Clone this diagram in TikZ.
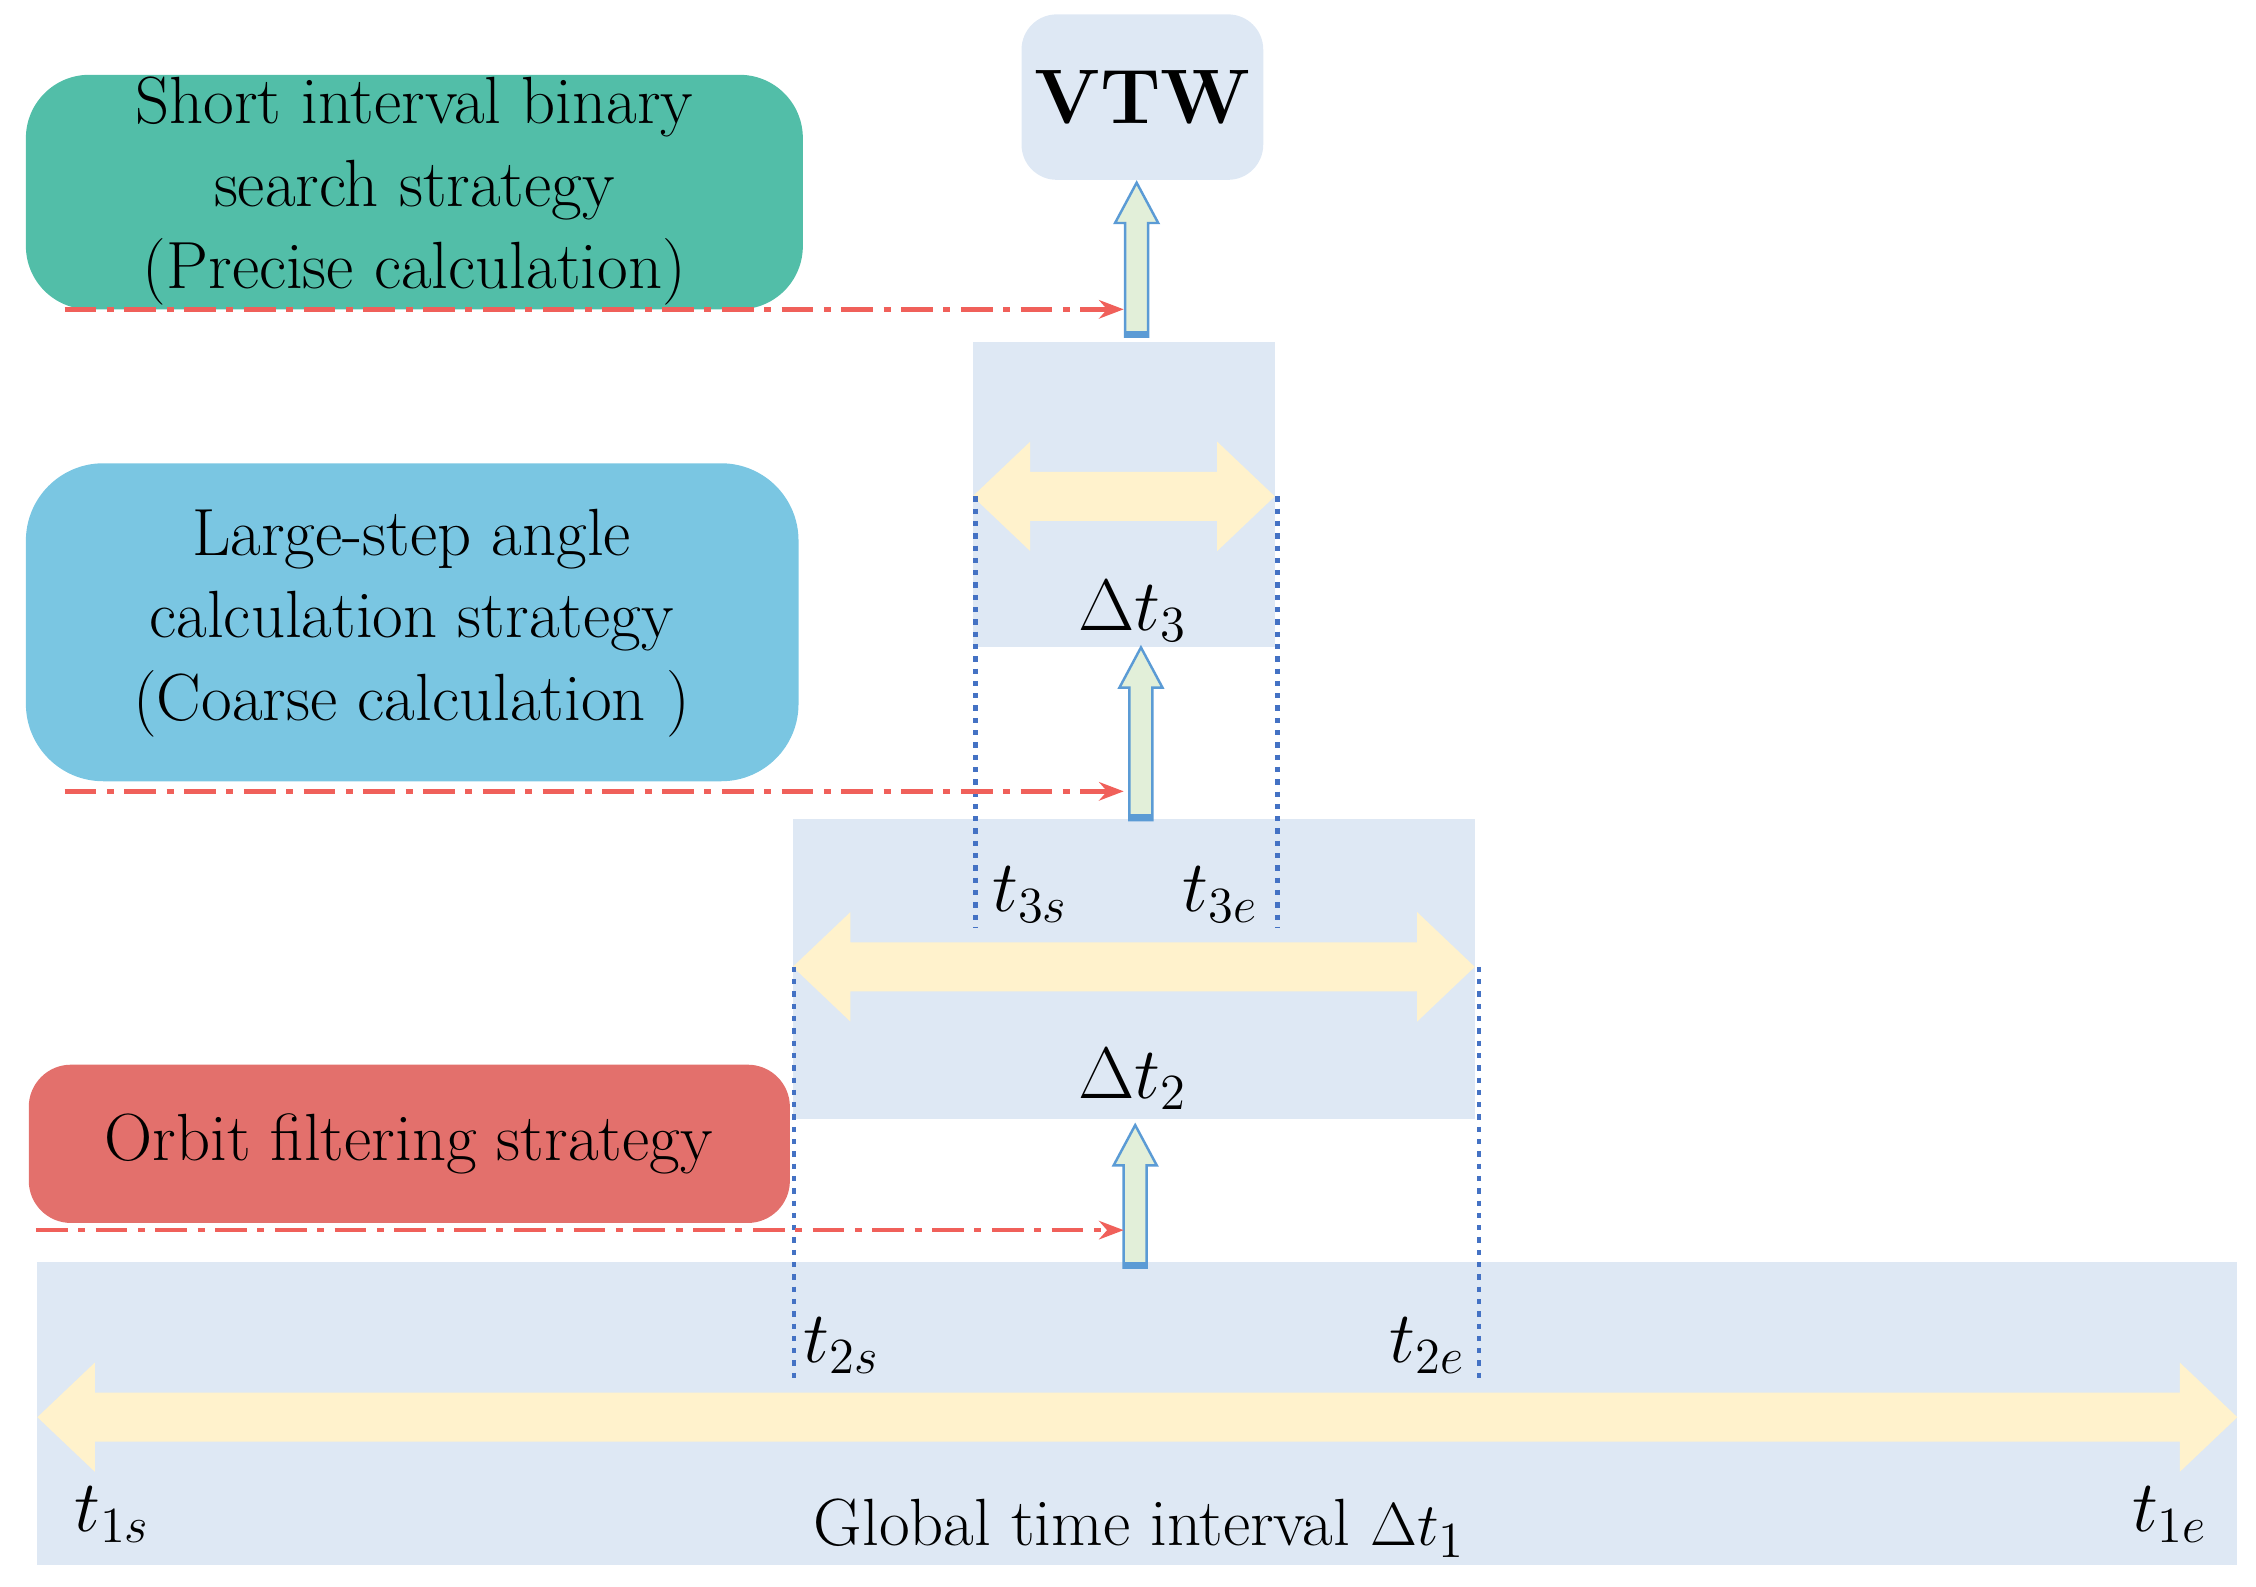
\documentclass[tikz,border=0pt]{standalone}
\usetikzlibrary{arrows.meta}
\definecolor{boxb}{HTML}{DEE8F4}
\definecolor{green1}{HTML}{52BEA8}
\definecolor{blue1}{HTML}{7AC6E2}
\definecolor{red1}{HTML}{E3706C}
\definecolor{yel}{HTML}{FFF2CC}
\definecolor{arrg}{HTML}{E2EFD9}
\definecolor{arrb}{HTML}{5B9BD5}
\definecolor{dash}{HTML}{F0605A}
\definecolor{dotb}{HTML}{4472C4}
\begin{document}
\begin{tikzpicture}[x=0.01439cm,y=-0.01439cm,
  txt/.style={font=\fontsize{19}{23.5}\selectfont,align=center,text=black},
  lab/.style={font=\fontsize{21}{24}\selectfont},
  strat/.style={rounded corners=14pt,draw=none},
  dd/.style={draw=dash,line width=1.3pt,dash pattern=on 9pt off 3pt on 2pt off 3pt,-{Stealth[length=7pt]}},
  dots/.style={draw=dotb,line width=1.3pt,dash pattern=on 1.5pt off 2pt},
  upar/.style={fill=arrg,draw=arrb,line width=0.7pt}]
\useasboundingbox (0,0) rectangle (1568,1103);
% backgrounds
\fill[boxb] (676,238) rectangle (886,450);
\fill[boxb] (551,569) rectangle (1025,778);
\fill[boxb] (26,877) rectangle (1555,1088);
% VTW
\node[fill=boxb,rounded corners=10pt,minimum width=168\pgflinewidth,inner sep=0] (vtw) at (794,68) {};
\fill[boxb,rounded corners=10pt] (710,10) rectangle (878,125);
\node[font=\fontsize{22}{26}\selectfont\bfseries] (vtwt) at (794,68) {VTW};
% strategy boxes
\fill[green1,rounded corners=18pt] (18,52) rectangle (558,215);
\node[txt] (g) at (288,133) {Short interval binary\\search strategy\\(Precise calculation)};
\fill[blue1,rounded corners=22pt] (18,322) rectangle (555,543);
\node[txt] (b) at (286,433) {Large-step angle\\calculation strategy\\(Coarse calculation )};
\fill[red1,rounded corners=12pt] (20,740) rectangle (549,850);
\node[txt] (r) at (284,795) {Orbit filtering strategy};
% yellow double arrows
\def\dblarrow#1#2#3{\fill[yel] (#1,#3) -- (#1+40,#3-38) -- (#1+40,#3-17) -- (#2-40,#3-17) -- (#2-40,#3-38) -- (#2,#3) -- (#2-40,#3+38) -- (#2-40,#3+17) -- (#1+40,#3+17) -- (#1+40,#3+38) -- cycle;}
\dblarrow{676}{886}{345}
\dblarrow{551}{1025}{672}
\dblarrow{26}{1555}{985}
% dotted lines
\draw[dots] (678,345) -- (678,645);
\draw[dots] (888,345) -- (888,645);
\draw[dots] (552,672) -- (552,962);
\draw[dots] (1028,672) -- (1028,962);
% up arrows
\def\uparr#1#2#3{\filldraw[upar] (#1-8,#2) -- (#1-8,#3+28) -- (#1-15,#3+28) -- (#1,#3) -- (#1+15,#3+28) -- (#1+8,#3+28) -- (#1+8,#2) -- cycle; \fill[arrb] (#1-8,#2-4) rectangle (#1+8,#2);}
\uparr{790}{234}{127}
\uparr{793}{570}{450}
\uparr{789}{881}{782}
% dash-dot arrows
\coordinate (a1s) at (45,215); \coordinate (a1e) at (781,215);
\coordinate (a2s) at (45,550); \coordinate (a2e) at (781,550);
\coordinate (a3s) at (25,855); \coordinate (a3e) at (781,855);
\draw[dd] (a1s) -- (a1e);
\draw[dd] (a2s) -- (a2e);
\draw[dd] (a3s) -- (a3e);
% labels
\node[lab] (d3) at (787,425) {$\Delta t_3$};
\node[lab] (d2) at (787,750) {$\Delta t_2$};
\node[lab] (t3s) at (716,622) {$t_{3s}$};
\node[lab] (t3e) at (848,622) {$t_{3e}$};
\node[lab] (t2s) at (585,935) {$t_{2s}$};
\node[lab] (t2e) at (992,935) {$t_{2e}$};
\node[lab] (t1s) at (78,1053) {$t_{1s}$};
\node[lab] (t1e) at (1508,1053) {$t_{1e}$};
\node[txt] (gl) at (792,1062) {Global time interval $\Delta t_1$};
\end{tikzpicture}
\end{document}
